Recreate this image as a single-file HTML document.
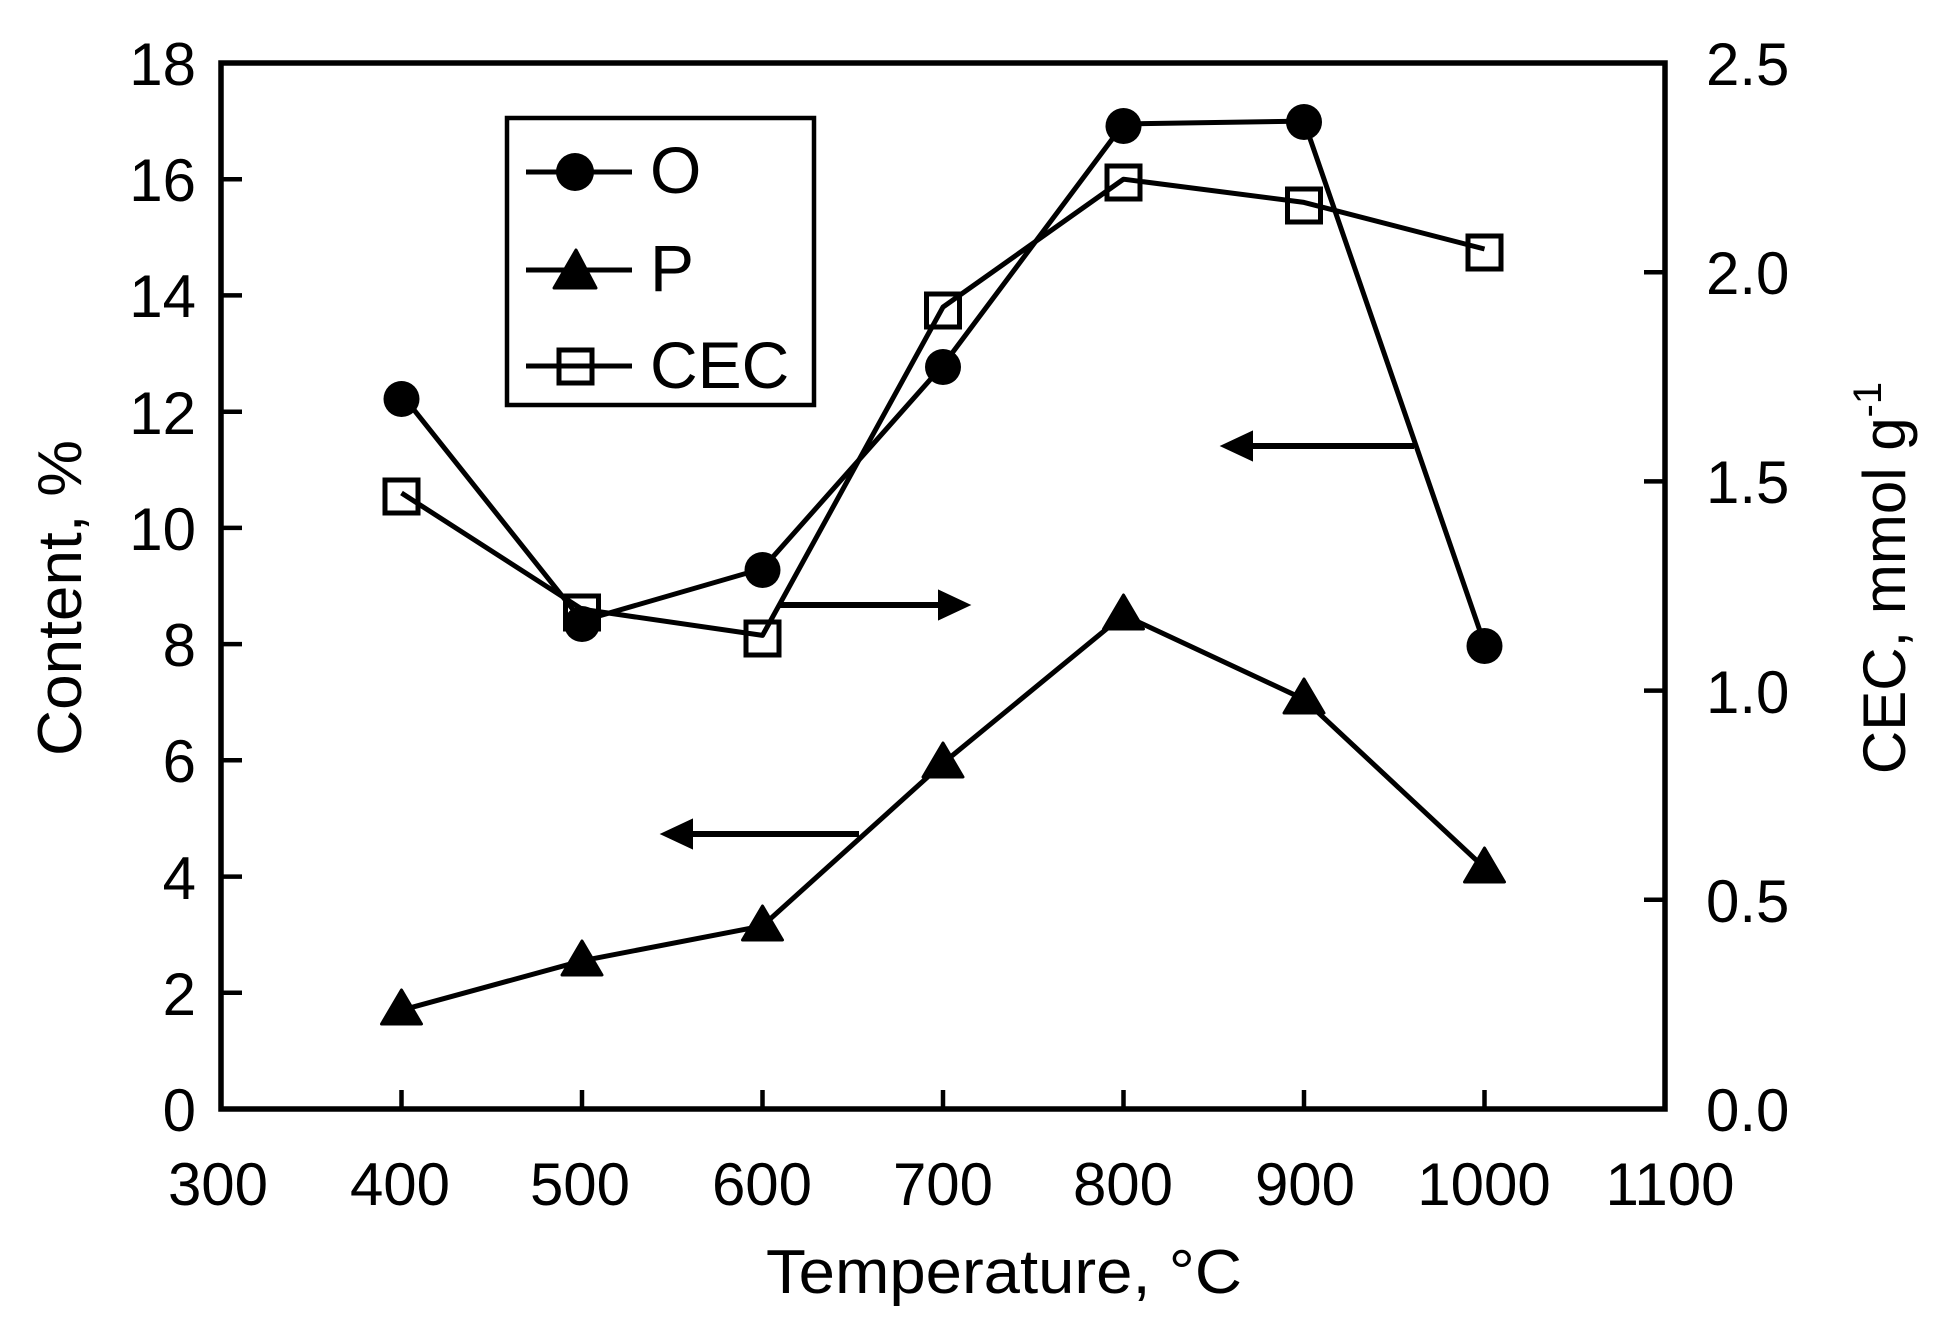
<!DOCTYPE html>
<html><head><meta charset="utf-8"><style>html,body{margin:0;padding:0;background:#fff}svg{display:block}</style></head>
<body>
<svg width="1950" height="1320" viewBox="0 0 1950 1320" xmlns="http://www.w3.org/2000/svg" font-family="Liberation Sans, sans-serif">
<rect x="221" y="63" width="1444" height="1046" fill="none" stroke="#000" stroke-width="5.5"/>
<g stroke="#000" stroke-width="4.5">
<line x1="401.5" y1="1109" x2="401.5" y2="1090"/>
<line x1="582" y1="1109" x2="582" y2="1090"/>
<line x1="762.5" y1="1109" x2="762.5" y2="1090"/>
<line x1="943" y1="1109" x2="943" y2="1090"/>
<line x1="1123.5" y1="1109" x2="1123.5" y2="1090"/>
<line x1="1304" y1="1109" x2="1304" y2="1090"/>
<line x1="1484.5" y1="1109" x2="1484.5" y2="1090"/>
<line x1="221" y1="992.8" x2="242" y2="992.8"/>
<line x1="221" y1="876.6" x2="242" y2="876.6"/>
<line x1="221" y1="760.3" x2="242" y2="760.3"/>
<line x1="221" y1="644.1" x2="242" y2="644.1"/>
<line x1="221" y1="527.9" x2="242" y2="527.9"/>
<line x1="221" y1="411.7" x2="242" y2="411.7"/>
<line x1="221" y1="295.4" x2="242" y2="295.4"/>
<line x1="221" y1="179.2" x2="242" y2="179.2"/>
<line x1="1665" y1="899.8" x2="1644" y2="899.8"/>
<line x1="1665" y1="690.6" x2="1644" y2="690.6"/>
<line x1="1665" y1="481.4" x2="1644" y2="481.4"/>
<line x1="1665" y1="272.2" x2="1644" y2="272.2"/>
</g>
<g font-size="60" fill="#000" text-anchor="end">
<text x="196" y="1131">0</text>
<text x="196" y="1015">2</text>
<text x="196" y="899">4</text>
<text x="196" y="782">6</text>
<text x="196" y="666">8</text>
<text x="196" y="550">10</text>
<text x="196" y="434">12</text>
<text x="196" y="317">14</text>
<text x="196" y="201">16</text>
<text x="196" y="85">18</text>
</g>
<g font-size="60" fill="#000" text-anchor="start">
<text x="1706" y="1131">0.0</text>
<text x="1706" y="922">0.5</text>
<text x="1706" y="713">1.0</text>
<text x="1706" y="503">1.5</text>
<text x="1706" y="294">2.0</text>
<text x="1706" y="85">2.5</text>
</g>
<g font-size="60" fill="#000" text-anchor="middle">
<text x="218" y="1205">300</text>
<text x="400" y="1205">400</text>
<text x="580" y="1205">500</text>
<text x="762" y="1205">600</text>
<text x="943" y="1205">700</text>
<text x="1123" y="1205">800</text>
<text x="1305" y="1205">900</text>
<text x="1484" y="1205">1000</text>
<text x="1670" y="1205">1100</text>
</g>
<text x="1004" y="1293" font-size="62" text-anchor="middle" textLength="476" lengthAdjust="spacingAndGlyphs">Temperature, °C</text>
<text transform="translate(81,598) rotate(-90)" font-size="62" text-anchor="middle" textLength="316" lengthAdjust="spacingAndGlyphs">Content, %</text>
<text transform="translate(1905,578) rotate(-90)" font-size="60" text-anchor="middle">CEC, mmol g<tspan dy="-24" font-size="40">-1</tspan></text>
<g fill="none" stroke="#000" stroke-width="5" stroke-linejoin="round">
<polyline points="401.5,394.2 582,620.9 762.5,568.6 943,365.2 1123.5,124.0 1304,121.1 1484.5,644.1"/>
<polyline points="401.5,1010.2 582,960.8 762.5,925.9 943,763.2 1123.5,615.0 1304,699.3 1484.5,867.8"/>
<polyline points="401.5,493.0 582,609.2 762.5,635.4 943,307.1 1123.5,179.2 1304,202.4 1484.5,249.0"/>
</g>
<g fill="#000">
<circle cx="401.5" cy="399" r="18"/>
<circle cx="582" cy="624" r="18"/>
<circle cx="762.5" cy="570" r="18"/>
<circle cx="943" cy="367" r="18"/>
<circle cx="1123.5" cy="126" r="18"/>
<circle cx="1304" cy="122" r="18"/>
<circle cx="1484.5" cy="646" r="18"/>
</g>
<g fill="#000" stroke="#000" stroke-width="3" stroke-linejoin="round">
<path d="M401.5,990 l20,34 h-40 z"/>
<path d="M582,941 l20,34 h-40 z"/>
<path d="M762.5,906 l20,34 h-40 z"/>
<path d="M943,743 l20,34 h-40 z"/>
<path d="M1123.5,595 l20,34 h-40 z"/>
<path d="M1304,679 l20,34 h-40 z"/>
<path d="M1484.5,848 l20,34 h-40 z"/>
</g>
<g fill="none" stroke="#000" stroke-width="5">
<rect x="385" y="480" width="33" height="33"/>
<rect x="565.5" y="596" width="33" height="33"/>
<rect x="746" y="622" width="33" height="33"/>
<rect x="926.5" y="294" width="33" height="33"/>
<rect x="1107" y="166" width="33" height="33"/>
<rect x="1287.5" y="189" width="33" height="33"/>
<rect x="1468" y="236" width="33" height="33"/>
</g>
<g stroke="#000" stroke-width="6" fill="#000">
<line x1="1414" y1="446" x2="1240" y2="446"/>
<path d="M1222,446 l30,-14 v28 z" stroke-width="2"/>
<line x1="779" y1="605" x2="950" y2="605"/>
<path d="M969,605 l-30,-14 v28 z" stroke-width="2"/>
<line x1="859" y1="834" x2="680" y2="834"/>
<path d="M662,834 l30,-14 v28 z" stroke-width="2"/>
</g>
<rect x="507" y="118" width="307" height="287" fill="#fff" stroke="#000" stroke-width="4.5"/>
<g stroke="#000" stroke-width="5">
<line x1="526" y1="172" x2="632" y2="172"/>
<line x1="526" y1="270" x2="632" y2="270"/>
<line x1="526" y1="366" x2="632" y2="366"/>
</g>
<circle cx="575" cy="172" r="19" fill="#000"/>
<path d="M576,250 l20,38 h-42 z" fill="#000" stroke="#000" stroke-width="3" stroke-linejoin="round"/>
<rect x="559" y="350" width="33" height="33" fill="none" stroke="#000" stroke-width="5"/>
<g font-size="66" fill="#000">
<text x="650" y="193">O</text>
<text x="650" y="291">P</text>
<text x="650" y="388">CEC</text>
</g>
</svg>
</body></html>
